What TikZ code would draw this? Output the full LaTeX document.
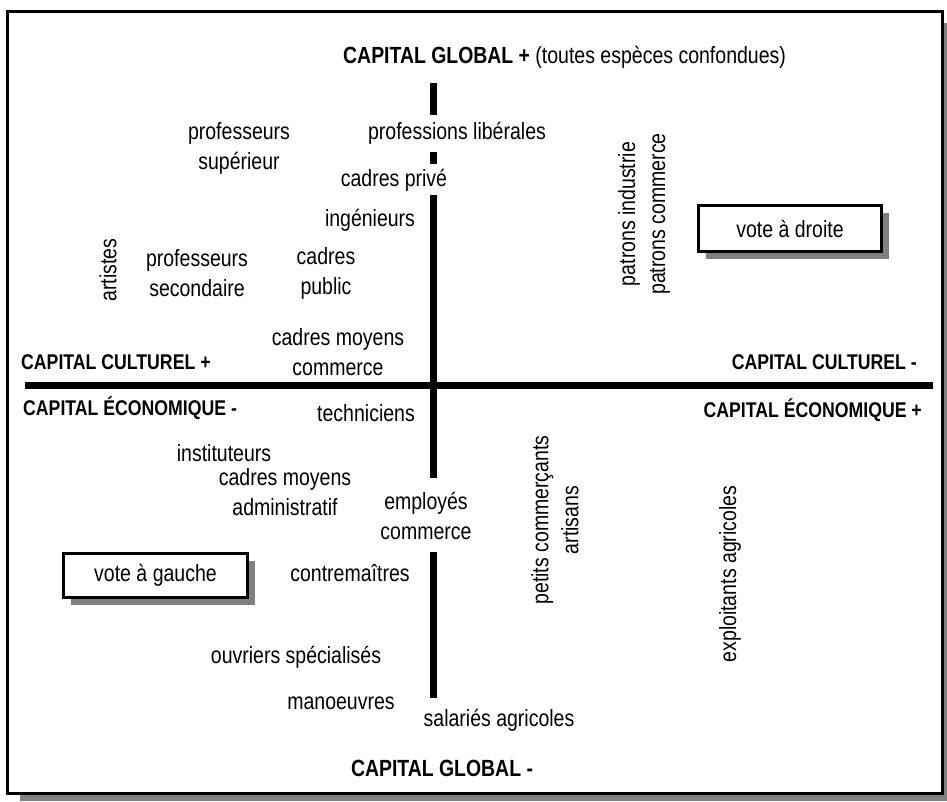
\documentclass[tikz,border=0pt]{standalone}
\usepackage{fontspec}
\setmainfont[FakeStretch=0.83]{Liberation Sans}
\usetikzlibrary{shadows}
\newcommand\regsz{\fontsize{23.5}{30}\selectfont}
\newcommand\axsz{\fontsize{21.3}{25}\selectfont\bfseries}
\newcommand\glsz{\fontsize{23.4}{27}\selectfont\bfseries}
\tikzset{
  lbl/.style={inner sep=0pt, align=center, font=\regsz},
  axlbl/.style={inner sep=0pt, font=\axsz},
  gllbl/.style={inner sep=0pt, font=\glsz},
  vlbl/.style={lbl, rotate=90},
  axis/.style={line width=7pt},
  votebox/.style={draw, line width=3pt, fill=white, inner sep=0pt,
    minimum width=183pt, minimum height=46pt,
    font=\fontsize{23.5}{28}\selectfont,
    general shadow={fill=black!50, shadow xshift=7pt, shadow yshift=-7pt}},
}
\begin{document}
\begin{tikzpicture}[x=1pt,y=-1pt]
\useasboundingbox (0,0) rectangle (947,801);
% frame with shadow
\fill[black!50] (20,23) rectangle (947,801);
\draw[line width=3pt, fill=white] (7.5,11.5) rectangle (942.5,793.5);

% axes
\coordinate (hl) at (25,385);
\coordinate (hr) at (933,385);
\draw[axis] (hl) -- (hr);
\coordinate (v1a) at (433.5,83);  \coordinate (v1b) at (433.5,115);
\coordinate (v2a) at (433.5,152); \coordinate (v2b) at (433.5,164);
\coordinate (v3a) at (433.5,195); \coordinate (v3b) at (433.5,478);
\coordinate (v4a) at (433.5,552); \coordinate (v4b) at (433.5,698);
\draw[axis] (v1a) -- (v1b);
\draw[axis] (v2a) -- (v2b);
\draw[axis] (v3a) -- (v3b);
\draw[axis] (v4a) -- (v4b);

% axis labels
\node[inner sep=0pt, anchor=west] (gplus) at (343,57)
  {\glsz CAPITAL GLOBAL +\regsz\mdseries\ (toutes espèces confondues)};
\node[gllbl] (gmoins) at (442,768) {CAPITAL GLOBAL -};
\node[axlbl, anchor=west] (cplus) at (21,362) {CAPITAL CULTUREL +};
\node[axlbl, anchor=east] (cmoins) at (917,362) {CAPITAL CULTUREL -};
\node[axlbl, anchor=west] (emoins) at (23,408) {CAPITAL ÉCONOMIQUE -};
\node[axlbl, anchor=east] (eplus) at (922,410) {CAPITAL ÉCONOMIQUE +};

% upper left
\node[lbl] (profsup) at (239,148) {professeurs\\supérieur};
\node[lbl] (proflib) at (457,133) {professions libérales};
\node[lbl] (cadpriv) at (394,180) {cadres privé};
\node[lbl] (ingen) at (370,220) {ingénieurs};
\node[lbl] (profsec) at (197,273) {professeurs\\secondaire};
\node[lbl] (cadpub) at (326,273) {cadres\\public};
\node[vlbl] (artistes) at (108,270) {artistes};
\node[lbl] (cmcom) at (338,352) {cadres moyens\\commerce};

% upper right
\node[vlbl] (patrons) at (644,214) {patrons industrie\\patrons commerce};
\node[votebox] (droite) at (790,228.5) {vote à droite};

% lower left
\node[lbl] (techn) at (366,413) {techniciens};
\node[lbl] (instit) at (224,453) {instituteurs};
\node[lbl] (cmadm) at (285,492) {cadres moyens\\administratif};
\node[lbl] (empcom) at (426,516) {employés\\commerce};
\node[votebox, minimum width=184pt, minimum height=44pt] (gauche) at (155.5,575.5) {vote à gauche};
\node[lbl] (contre) at (350,573) {contremaîtres};
\node[lbl] (ouvr) at (296,657) {ouvriers spécialisés};
\node[lbl] (manoe) at (341,703) {manoeuvres};
\node[lbl] (salag) at (499,720) {salariés agricoles};

% lower right
\node[vlbl] (petits) at (555,520) {petits commerçants\\artisans};
\node[vlbl] (exploit) at (730,574) {exploitants agricoles};
\end{tikzpicture}
\end{document}
